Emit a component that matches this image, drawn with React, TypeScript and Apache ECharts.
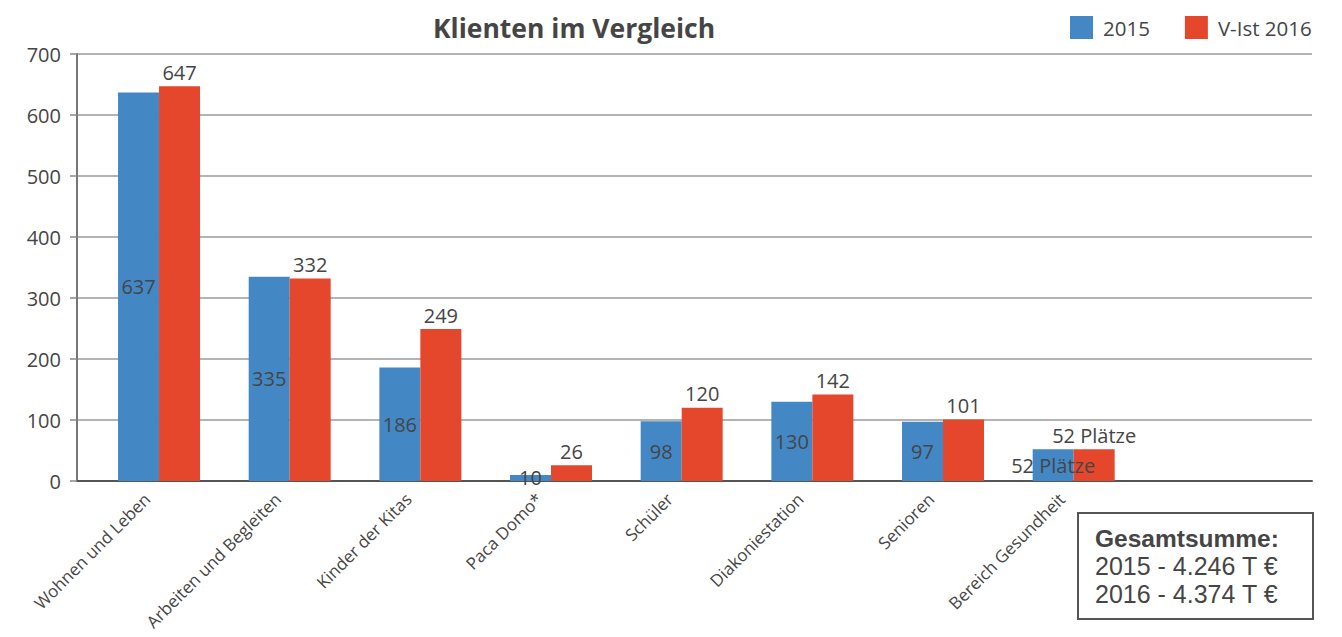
import React, { useEffect, useRef } from "react";
import * as echarts from "echarts";

const categories = [
  "Wohnen und Leben",
  "Arbeiten und Begleiten",
  "Kinder der Kitas",
  "Paca Domo*",
  "Schüler",
  "Diakoniestation",
  "Senioren",
  "Bereich Gesundheit",
];
const values2015 = [637, 335, 186, 10, 98, 130, 97, 52];
const values2016 = [647, 332, 249, 26, 120, 142, 101, 52];
const placesCategory = "Bereich Gesundheit";
const yTicks = { min: 0, max: 700, interval: 100 };
const totalLines = ["Gesamtsumme:", "2015 - 4.246 T €", "2016 - 4.374 T €"];

const FONT = "'Open Sans', 'Noto Sans', sans-serif";
const BOX_FONT = "'Liberation Sans', Arial, sans-serif";
const TEXT = "#454545";
const BLUE = "#4388c5";
const RED = "#e4472b";

export default function App() {
  const ref = useRef<HTMLDivElement>(null);
  useEffect(() => {
    if (!ref.current) return;
    const chart = echarts.init(ref.current, undefined, { renderer: "svg" });
    const mk = (vals: number[]) =>
      vals.map((v, i) =>
        categories[i] === placesCategory
          ? { value: v, label: { formatter: "{c} Plätze" } }
          : v
      );
    chart.setOption({
      animation: false,
      backgroundColor: "#ffffff",
      textStyle: { fontFamily: FONT, color: TEXT },
      title: {
        text: "Klienten im Vergleich",
        left: 428,
        top: 9,
        textStyle: { fontFamily: FONT, fontSize: 26.5, fontWeight: "bold", color: TEXT },
      },
      legend: {
        left: 1065,
        top: 11,
        itemWidth: 23,
        itemHeight: 23,
        itemGap: 35,
        icon: "rect",
        textStyle: { fontFamily: FONT, fontSize: 20.5, color: TEXT, padding: [0, 0, 0, 5] },
        data: ["2015", "V-Ist 2016"],
      },
      grid: [
        { left: 77, right: 30, top: 54, bottom: 156, containLabel: false, outerBoundsMode: "none" },
        { left: 93.7, width: 1045.3, top: 54, bottom: 156, containLabel: false, outerBoundsMode: "none" },
      ],
      xAxis: [
        {
          gridIndex: 0,
          type: "value",
          min: 0,
          max: 1,
          axisLine: { show: true, lineStyle: { color: "#555555", width: 2 } },
          axisTick: { show: false },
          axisLabel: { show: false },
          splitLine: { show: false },
        },
        {
          gridIndex: 1,
          type: "category",
          data: categories,
          axisLine: { show: false },
          axisTick: { show: false },
          axisLabel: {
            rotate: 45,
            margin: 3,
            interval: 0,
            padding: [0, 17, 0, 0],
            fontFamily: FONT,
            fontSize: 17,
            color: TEXT,
          },
        },
      ],
      yAxis: [
        {
          gridIndex: 0,
          type: "value",
          min: yTicks.min,
          max: yTicks.max,
          interval: yTicks.interval,
          axisLine: { show: true, lineStyle: { color: "#777777", width: 2 } },
          axisTick: { show: true, length: 7, lineStyle: { color: "#888888", width: 1.5 } },
          axisLabel: { margin: 16, fontFamily: FONT, fontSize: 20, color: TEXT },
          splitLine: { show: true, lineStyle: { color: "#9a9a9a", width: 1.5 } },
        },
        {
          gridIndex: 1,
          type: "value",
          min: yTicks.min,
          max: yTicks.max,
          interval: yTicks.interval,
          show: false,
          splitLine: { show: false },
        },
      ],
      series: [
        {
          name: "2015",
          type: "bar",
          xAxisIndex: 1,
          yAxisIndex: 1,
          data: mk(values2015),
          barWidth: 41,
          barGap: "0%",
          itemStyle: { color: BLUE },
          label: {
            show: true,
            position: "inside",
            fontFamily: FONT,
            fontSize: 20,
            color: TEXT,
          },
        },
        {
          name: "V-Ist 2016",
          type: "bar",
          xAxisIndex: 1,
          yAxisIndex: 1,
          data: mk(values2016),
          barWidth: 41,
          barGap: "0%",
          itemStyle: { color: RED },
          label: {
            show: true,
            position: "top",
            distance: 4,
            fontFamily: FONT,
            fontSize: 20,
            color: TEXT,
          },
        },
      ],
      graphic: [
        {
          type: "group",
          left: 1077,
          top: 512,
          children: [
            {
              type: "rect",
              shape: { x: 0, y: 0, width: 235, height: 106 },
              style: { fill: "#ffffff", stroke: "#555555", lineWidth: 2 },
            },
            {
              type: "text",
              x: 17,
              y: 25,
              style: {
                text: totalLines[0],
                fontFamily: BOX_FONT,
                fontSize: 24.5,
                fontWeight: "bold",
                fill: TEXT,
                verticalAlign: "middle",
              },
            },
            {
              type: "text",
              x: 17,
              y: 53,
              style: {
                text: totalLines[1],
                fontFamily: BOX_FONT,
                fontSize: 25,
                fill: TEXT,
                verticalAlign: "middle",
              },
            },
            {
              type: "text",
              x: 17,
              y: 81,
              style: {
                text: totalLines[2],
                fontFamily: BOX_FONT,
                fontSize: 25,
                fill: TEXT,
                verticalAlign: "middle",
              },
            },
          ],
        },
      ],
    });
    return () => chart.dispose();
  }, []);
  return <div ref={ref} style={{ width: 1342, height: 637, margin: -8 }} />;
}
